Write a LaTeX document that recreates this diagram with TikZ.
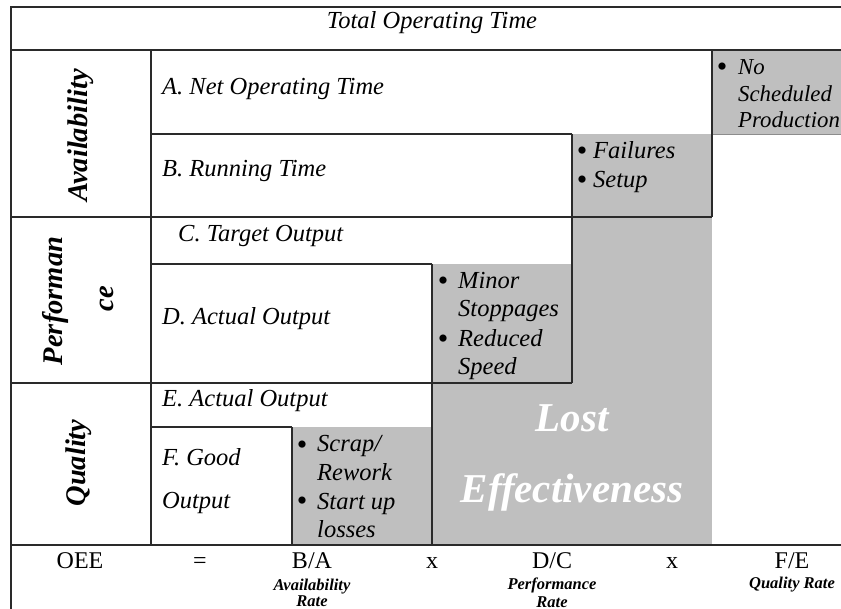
\documentclass[tikz,border=0pt]{standalone}
\usepackage{fontspec}
\setmainfont{Liberation Serif}
\definecolor{lossgray}{HTML}{BFBFBF}
\definecolor{rulecol}{HTML}{2A2A2A}
\begin{document}
\begin{tikzpicture}[x=1pt,y=-1pt,
  rule/.style={draw=rulecol, line width=1.3pt},
  faint/.style={draw=black!45, line width=0.7pt},
  lbl/.style={font=\fontsize{24.5}{28}\selectfont\itshape, anchor=base west, inner sep=0pt},
  nslbl/.style={lbl, font=\fontsize{22.8}{27}\selectfont\itshape},
  clbl/.style={lbl, anchor=base},
  bul/.style={font=\fontsize{30}{30}\selectfont, anchor=base, inner sep=0pt},
  side/.style={font=\fontsize{28.5}{32}\selectfont\bfseries\itshape, rotate=90, anchor=base, inner sep=0pt},
  lost/.style={font=\fontsize{41}{44}\selectfont\bfseries\itshape, text=white, anchor=base, inner sep=0pt},
  eq/.style={font=\fontsize{24}{28}\selectfont, anchor=base, inner sep=0pt},
  sub/.style={font=\fontsize{16.5}{18}\selectfont\bfseries\itshape, anchor=base, inner sep=0pt}]
\useasboundingbox (0,0) rectangle (841,609);
% grey loss areas
\fill[lossgray] (712,50) rectangle (841,134);
\fill[lossgray] (572,134) rectangle (712,545);
\fill[lossgray] (432,264) rectangle (572,545);
\fill[lossgray] (292,427) rectangle (432,545);
% rules
\draw[rule] (11,609) -- (11,7) -- (841,7);
\draw[rule] (11,50) -- (841,50);
\draw[rule] (151,50) -- (151,545);
\draw[rule] (151,134) -- (572,134);
\draw[faint] (712,134) -- (841,134);
\draw[rule] (572,134) -- (572,383);
\draw[rule] (712,50) -- (712,217);
\draw[rule] (11,217) -- (712,217);
\draw[rule] (151,264) -- (432,264);
\draw[rule] (432,264) -- (432,545);
\draw[rule] (11,383) -- (572,383);
\draw[rule] (151,427) -- (292,427);
\draw[rule] (292,427) -- (292,545);
\draw[rule] (11,545) -- (841,545);
% header
\node[clbl] (total) at (432,29) {Total Operating Time};
% side labels
\node[side] (avail) at (87,135.5) {Availability};
\node[side] (perf1) at (62,301) {Performan};
\node[side] (perf2) at (113,299) {ce};
\node[side] (qual) at (85,463) {Quality};
% row labels
\node[lbl] (A) at (162,95) {A. Net Operating Time};
\node[lbl] (B) at (162,177) {B. Running Time};
\node[lbl] (C) at (178,242) {C. Target Output};
\node[lbl] (D) at (162,325) {D. Actual Output};
\node[lbl] (E) at (162,407) {E. Actual Output};
\node[lbl] (F1) at (162,466) {F. Good};
\node[lbl] (F2) at (162,508) {Output};
% no scheduled production
\node[bul] (b1) at (722,77) {•};
\node[nslbl] (ns1) at (738,75) {No};
\node[nslbl] (ns2) at (738,102) {Scheduled};
\node[nslbl] (ns3) at (738,128) {Production};
% failures / setup
\node[bul] (b2) at (582,161) {•};
\node[lbl] (fa) at (593,159) {Failures};
\node[bul] (b3) at (582,190) {•};
\node[lbl] (su) at (593,188) {Setup};
% minor stoppages / reduced speed
\node[bul] (b4) at (443,291) {•};
\node[lbl] (ms1) at (458,289) {Minor};
\node[lbl] (ms2) at (458,317) {Stoppages};
\node[bul] (b5) at (443,349) {•};
\node[lbl] (rs1) at (458,347) {Reduced};
\node[lbl] (rs2) at (458,375) {Speed};
% scrap / start up
\node[bul] (b6) at (302,454) {•};
\node[lbl] (sc1) at (317,452) {Scrap/};
\node[lbl] (sc2) at (317,480) {Rework};
\node[bul] (b7) at (302,511) {•};
\node[lbl] (st1) at (317,509) {Start up};
\node[lbl] (st2) at (317,537) {losses};
% lost effectiveness
\node[lost] (lost1) at (572,432) {Lost};
\node[lost] (lost2) at (572,502) {Effectiveness};
% formula row
\node[eq] (oee) at (80,568) {OEE};
\node[eq] (eqs) at (200,568) {=};
\node[eq] (ba) at (312,568) {B/A};
\node[eq] (x1) at (432,568) {x};
\node[eq] (dc) at (552,568) {D/C};
\node[eq] (x2) at (672,568) {x};
\node[eq] (fe) at (792,568) {F/E};
\node[sub] (ar1) at (312,590) {Availability};
\node[sub] (ar2) at (312,606) {Rate};
\node[sub] (pr1) at (552,589) {Performance};
\node[sub] (pr2) at (552,607) {Rate};
\node[sub] (qr) at (792,588) {Quality Rate};
\end{tikzpicture}
\end{document}
